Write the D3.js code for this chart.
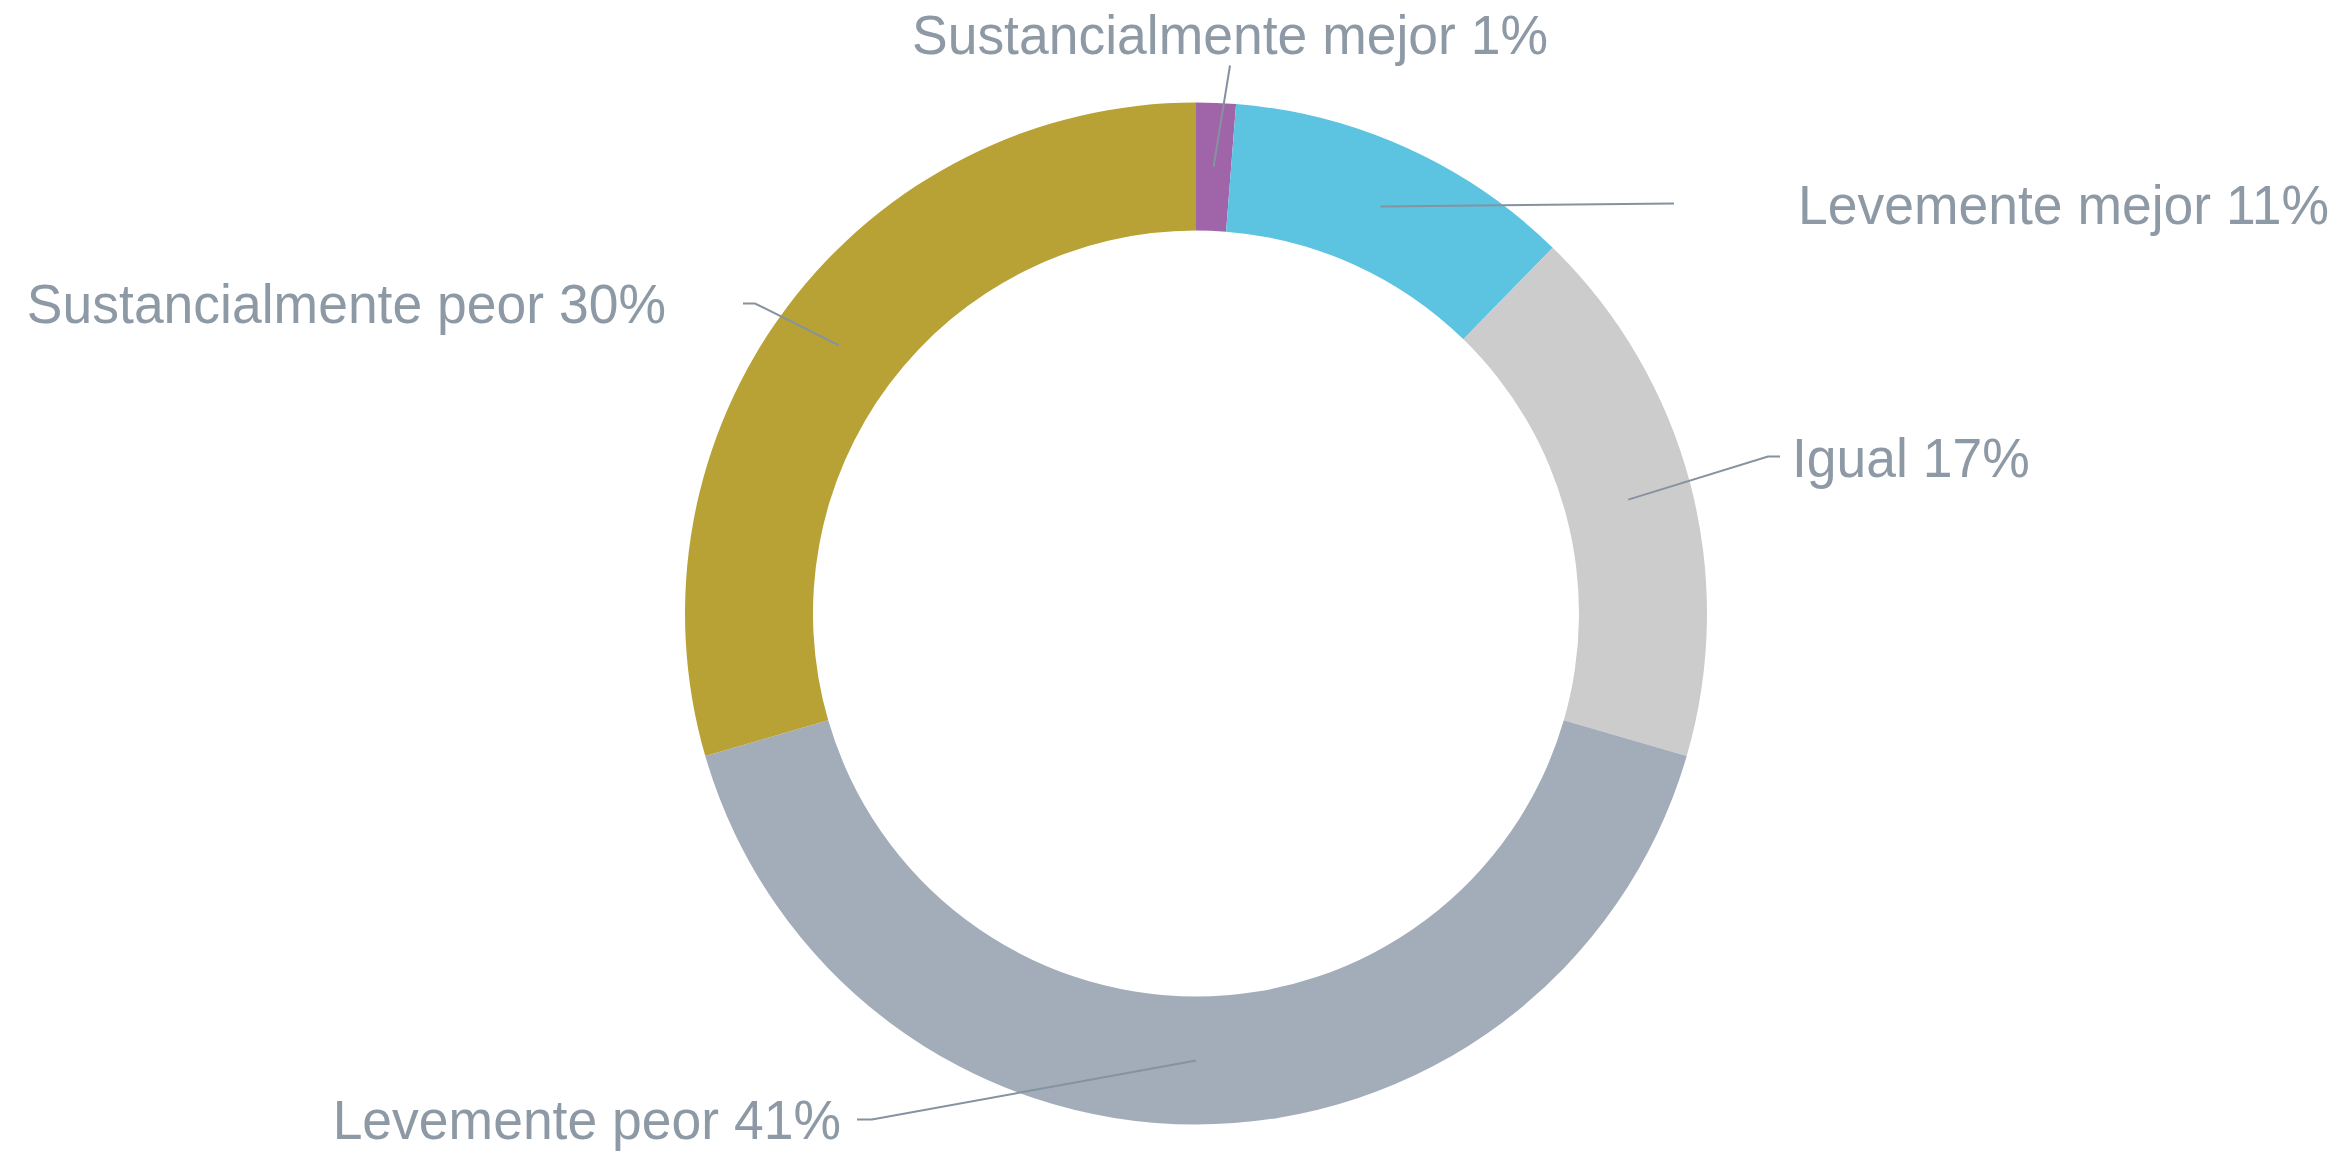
<!DOCTYPE html>
<html>
<head>
<meta charset="utf-8">
<script src="https://cdn.jsdelivr.net/npm/d3@7"></script>
<style>
  body { margin: 0; background: #fff; }
  .etiqueta { font-family: "Liberation Sans", Arial, sans-serif; font-size: 56px; fill: #8e99a6; }
  .guia { fill: none; stroke: #8592a1; stroke-width: 2; }
</style>
</head>
<body>
<div id="grafico"></div>
<script>
// datos (porcentajes)
const categorias = [
  "Sustancialmente mejor",
  "Levemente mejor",
  "Igual",
  "Levemente peor",
  "Sustancialmente peor"
];
const valores = [1.25, 11.05, 17.2, 41.0, 29.5];
const colores = ["#a064a8", "#5cc4e1", "#cccccc", "#a3adb9", "#b8a236"];

// posicion de las etiquetas (codo de la linea guia, relativo al centro)
const codoEtiqueta = [[34, -548], [478, -410], [572, -157], [-324, 506], [-441, -310]];
const largoMarca = [0, 0, 12, -15, -12];
const anclaTexto = ["middle", "start", "start", "end", "end"];
const dxTexto = [0, 124, 12, -16, -77];
const dyTexto = [-12, 20, 20, 19, 19];

const width = 2335;
const height = 1152;
const cx = 1196;
const cy = 613.5;
const radioExterior = 511;
const radioInterior = 383;

const svg = d3.select("#grafico").append("svg")
  .attr("width", width)
  .attr("height", height);

const g = svg.append("g").attr("transform", `translate(${cx},${cy})`);

const datos = categorias.map((c, i) => ({ categoria: c, valor: valores[i], i }));

const pie = d3.pie().sort(null).value(d => d.valor);
const arc = d3.arc().innerRadius(radioInterior).outerRadius(radioExterior);

const arcos = pie(datos);

g.selectAll(".sector")
  .data(arcos)
  .enter()
  .append("path")
  .attr("class", "sector")
  .attr("fill", d => colores[d.data.i])
  .attr("d", arc);

const formato = d3.format(".0f");

// lineas guia: centroide -> codo -> marca horizontal
g.selectAll(".guia")
  .data(arcos)
  .enter()
  .append("polyline")
  .attr("class", "guia")
  .attr("points", d => {
    const c = arc.centroid(d);
    const e = codoEtiqueta[d.data.i];
    const m = [e[0] + largoMarca[d.data.i], e[1]];
    return [c, e, m].map(p => p.join(",")).join(" ");
  });

// texto algo mas estrecho que la Arial normal
g.selectAll(".etiqueta")
  .data(arcos)
  .enter()
  .append("text")
  .attr("class", "etiqueta")
  .attr("transform", d => {
    const x = codoEtiqueta[d.data.i][0] + largoMarca[d.data.i] + dxTexto[d.data.i];
    const y = codoEtiqueta[d.data.i][1] + dyTexto[d.data.i];
    return `translate(${x},${y}) scale(0.955,1)`;
  })
  .attr("text-anchor", d => anclaTexto[d.data.i])
  .text(d => `${d.data.categoria} ${formato(d.data.valor)}%`);
</script>
</body>
</html>
